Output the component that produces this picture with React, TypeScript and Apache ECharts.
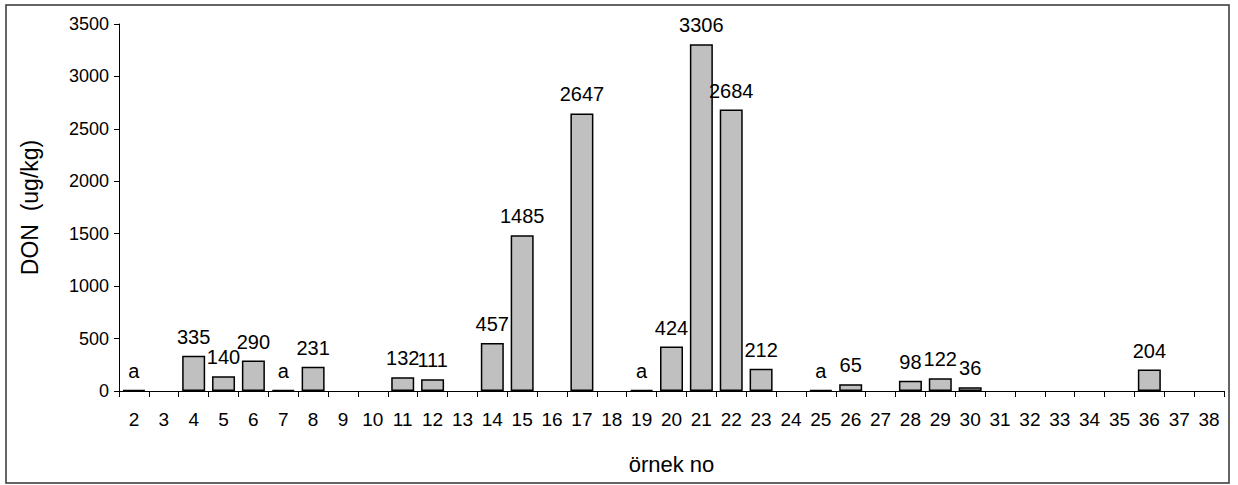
import React, { useEffect, useRef } from "react";
import * as echarts from "echarts";

const categories = [
  "2","3","4","5","6","7","8","9","10","11","12","13","14","15","16","17","18","19","20",
  "21","22","23","24","25","26","27","28","29","30","31","32","33","34","35","36","37","38",
];
const values: (number | null)[] = [
  10, null, 335, 140, 290, 10, 231, null, null, 132, 111, null, 457, 1485, null, 2647, null,
  10, 424, 3306, 2684, 212, null, 10, 65, null, 98, 122, 36, null, null, null, null, null, 204,
  null, null,
];
const pointLabels: string[] = [
  "a", "", "335", "140", "290", "a", "231", "", "", "132", "111", "", "457", "1485", "", "2647", "",
  "a", "424", "3306", "2684", "212", "", "a", "65", "", "98", "122", "36", "", "", "", "", "", "204",
  "", "",
];
const yTicks = { min: 0, max: 3500, interval: 500 };
const FONT = "'Liberation Sans', Arial, sans-serif";

export default function App() {
  const ref = useRef<HTMLDivElement>(null);
  useEffect(() => {
    document.body.style.margin = "0";
    const chart = echarts.init(ref.current!, null, { renderer: "svg" });
    chart.setOption({
      animation: false,
      backgroundColor: "#fff",
      textStyle: { fontFamily: FONT, color: "#000" },
      grid: { left: 119, right: 14, top: 24, bottom: 94 },
      graphic: [
        {
          type: "rect",
          shape: { x: 6, y: 5, width: 1223, height: 478 },
          style: { fill: "none", stroke: "#333", lineWidth: 1.5 },
          silent: true,
        },
      ],
      xAxis: {
        type: "category",
        data: categories,
        boundaryGap: true,
        name: "örnek no",
        nameLocation: "middle",
        nameGap: 62,
        nameTextStyle: { fontSize: 22, color: "#000", fontFamily: FONT },
        axisLine: { lineStyle: { color: "#000", width: 1 } },
        axisTick: { show: true, length: 6, lineStyle: { color: "#000" } },
        axisLabel: { fontSize: 19, color: "#000", margin: 19, interval: 0, fontFamily: FONT },
        splitLine: { show: false },
      },
      yAxis: {
        type: "value",
        min: yTicks.min,
        max: yTicks.max,
        interval: yTicks.interval,
        name: "DON  (ug/kg)",
        nameLocation: "middle",
        nameGap: 78,
        nameTextStyle: { fontSize: 23, color: "#000", fontFamily: FONT },
        axisLine: { show: true, lineStyle: { color: "#000", width: 1 } },
        axisTick: { show: true, length: 5, lineStyle: { color: "#000" } },
        axisLabel: {
          fontSize: 18,
          color: "#000",
          margin: 10,
          fontFamily: FONT,
          formatter: (v: number) => String(v),
        },
        splitLine: { show: false },
      },
      series: [
        {
          type: "bar",
          data: values,
          barWidth: "77%",
          itemStyle: { color: "#c0c0c0", borderColor: "#000", borderWidth: 1.5 },
          label: {
            show: true,
            position: "top",
            distance: 9,
            fontSize: 20,
            color: "#000",
            fontFamily: FONT,
            formatter: (p: any) => pointLabels[p.dataIndex] || "",
          },
        },
      ],
    });
    return () => chart.dispose();
  }, []);
  return (
    <div
      ref={ref}
      style={{ position: "absolute", left: 0, top: 0, width: 1238, height: 485 }}
    />
  );
}
